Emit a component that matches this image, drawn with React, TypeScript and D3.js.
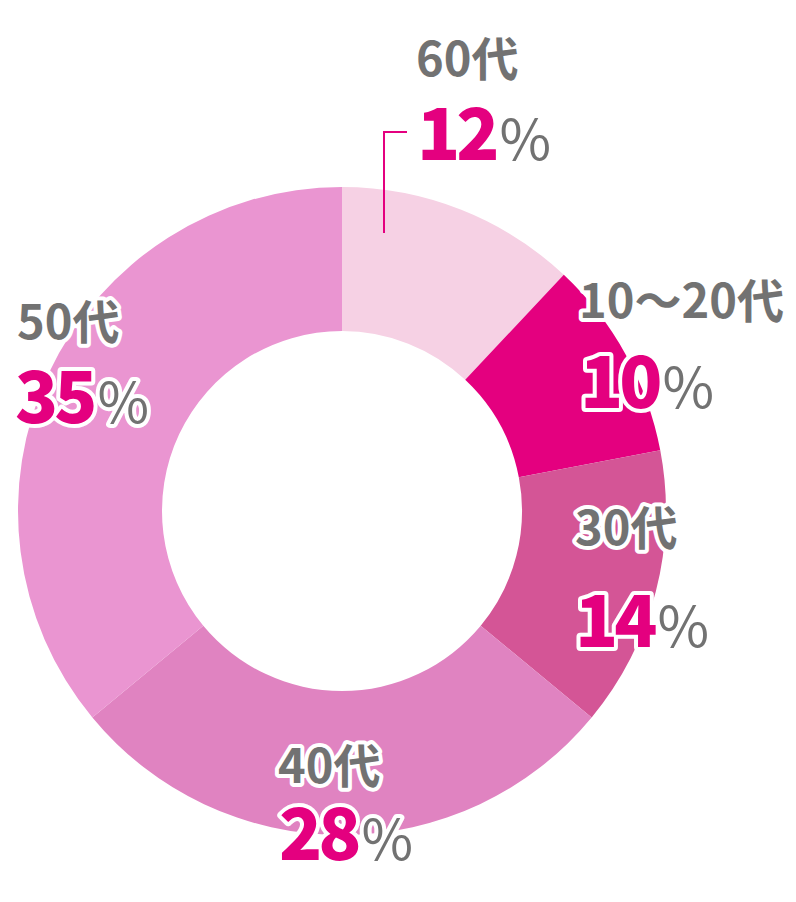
import React from "react";
import * as d3 from "d3";

const categories = ["60代", "10～20代", "30代", "40代", "50代"];
const values = [12, 10, 14, 28, 35];
const colors = ["#F6D1E4", "#E4007F", "#D45596", "#E083C1", "#EA95D1"];
const labelPos = [
  { x: 416, y1: 76, x2: 417, y2: 160 },
  { x: 579, y1: 318, x2: 580, y2: 408 },
  { x: 575, y1: 545, x2: 575, y2: 647 },
  { x: 278, y1: 783, x2: 279, y2: 860 },
  { x: 17, y1: 339, x2: 15, y2: 423 },
];

const W = 796, H = 902;
const cx = 342, cy = 511, R = 324, r = 180;

export default function App() {
  const total = d3.sum(values);
  const pie = d3
    .pie<number>()
    .sort(null)
    .value((d) => d)
    .startAngle(0)
    .endAngle((2 * Math.PI * total) / 100);
  const arcs = pie(values);
  arcs[arcs.length - 1].endAngle = 2 * Math.PI;
  const arc = d3.arc<d3.PieArcDatum<number>>().innerRadius(r).outerRadius(R);
  const font = "'Noto Sans CJK JP', 'Noto Sans', sans-serif";
  return (
    <svg width={W} height={H} style={{ position: "absolute", left: 0, top: 0 }}>
      <rect width={W} height={H} fill="#fff" />
      <g transform={`translate(${cx},${cy})`}>
        {arcs.map((a, i) => (
          <path key={i} d={arc(a) || ""} fill={colors[i]} />
        ))}
      </g>
      <path d="M384,233 V132 H407" fill="none" stroke="#E4007F" strokeWidth={2} />
      {categories.map((c, i) => {
        const p = labelPos[i];
        return (
          <g key={c} fontFamily={font}>
            <text
              x={p.x}
              y={p.y1}
              fontSize={47}
              fontWeight={700}
              fill="#727272"
              stroke="#fff"
              strokeWidth={8}
              strokeLinejoin="round"
              paintOrder="stroke"
            >
              {c}
            </text>
            <text
              x={p.x2}
              y={p.y2}
              stroke="#fff"
              strokeWidth={8}
              strokeLinejoin="round"
              paintOrder="stroke"
            >
              <tspan fontSize={71} fontWeight={900} fill="#E4007F" letterSpacing={-4}>
                {values[i]}
              </tspan>
              <tspan fontSize={56} fontWeight={400} fill="#727272" dx={4}>
                %
              </tspan>
            </text>
          </g>
        );
      })}
    </svg>
  );
}
